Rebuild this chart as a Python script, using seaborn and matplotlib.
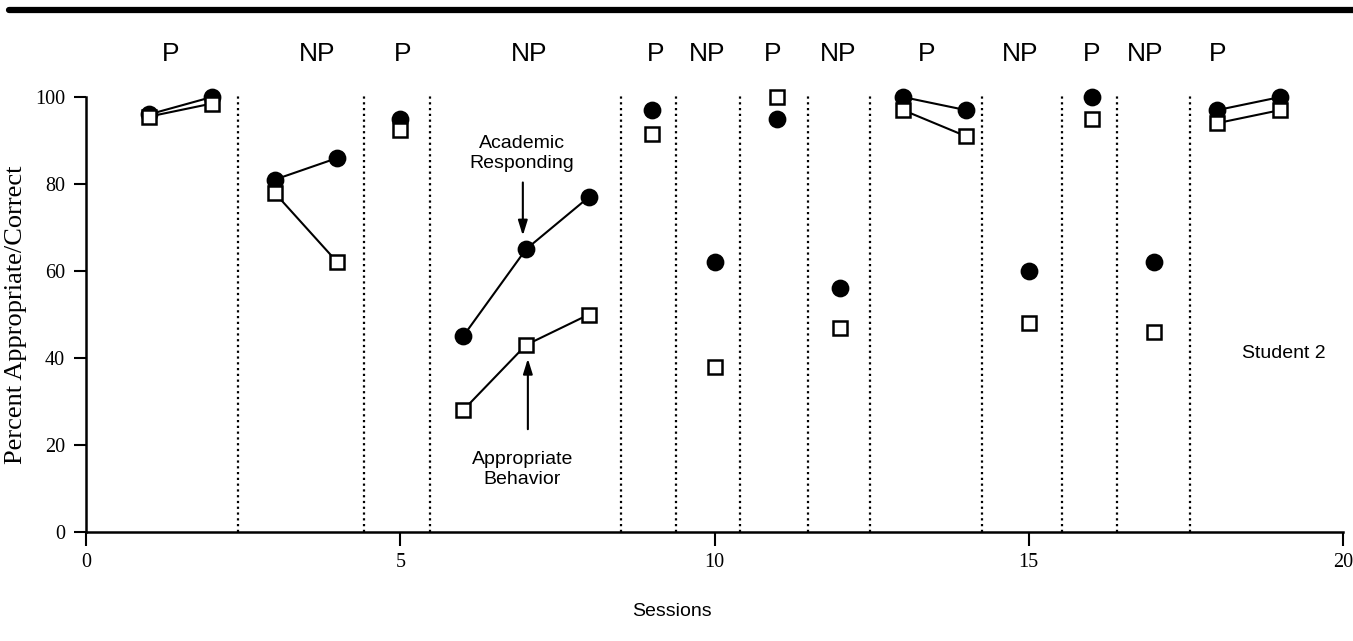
import numpy as np
import pandas as pd
import seaborn as sns
import matplotlib.pyplot as plt
from matplotlib.lines import Line2D

sns.set_style('ticks')
plt.rcParams['font.family'] = ['Liberation Serif', 'DejaVu Serif']
plt.rcParams.update({'text.color': 'black', 'axes.labelcolor': 'black',
                     'xtick.color': 'black', 'ytick.color': 'black',
                     'axes.edgecolor': 'black'})

# data
sessions = list(range(1, 20))
phase_id = [1, 1, 2, 2, 3, 4, 4, 4, 5, 6, 7, 8, 9, 9, 10, 11, 12, 13, 13]
academic = [96, 100, 81, 86, 95, 45, 65, 77, 97, 62, 95, 56, 100, 97, 60, 100, 62, 97, 100]
behavior = [95.5, 98.5, 78, 62, 92.5, 28, 43, 50, 91.5, 38, 100, 47, 97, 91, 48, 95, 46, 94, 97]

phase_names = ['P', 'NP', 'P', 'NP', 'P', 'NP', 'P', 'NP', 'P', 'NP', 'P', 'NP', 'P']
phase_label_x = [1.34, 3.67, 5.03, 7.05, 9.07, 9.88, 10.93, 11.96, 13.38, 14.86, 16.0, 16.85, 18.0]
phase_lines = [2.42, 4.42, 5.47, 8.51, 9.39, 10.41, 11.49, 12.47, 14.26, 15.53, 16.40, 17.57]

df = pd.DataFrame({
    'session': sessions * 2,
    'phase': phase_id * 2,
    'measure': ['Academic'] * 19 + ['Behavior'] * 19,
    'value': academic + behavior,
})

fig = plt.figure(figsize=(13.53, 6.41), dpi=100)
ax = fig.add_axes([0.0636, 0.170, 0.929, 0.6786])

for x in phase_lines:
    ax.plot([x, x], [0, 101], color='black', lw=1.6, linestyle=(0, (1, 1.6)), clip_on=False)

styles = {'Academic': dict(marker='o', markersize=11, markerfacecolor='black'),
          'Behavior': dict(marker='s', markersize=10, markerfacecolor='white')}

for measure in ['Academic', 'Behavior']:
    sub = df[df['measure'] == measure]
    for ph, grp in sub.groupby('phase'):
        sns.lineplot(data=grp, x='session', y='value', ax=ax, color='black', lw=1.5,
                     markeredgecolor='black', markeredgewidth=1.8, clip_on=False,
                     estimator=None, legend=False, **styles[measure])

ax.set_xlim(0, 20)
ax.set_ylim(0, 100)
ax.set_xticks([0, 5, 10, 15, 20])
ax.set_yticks([0, 20, 40, 60, 80, 100])
ax.tick_params(axis='y', length=9, width=1.5, pad=6, labelsize=14.5)
ax.tick_params(axis='x', length=10, width=1.5, pad=5, labelsize=14.5)
sns.despine(ax=ax)
for s in ['left', 'bottom']:
    ax.spines[s].set_linewidth(1.8)
ax.set_xlabel('')
ax.set_ylabel('Percent Appropriate/Correct', fontsize=19, labelpad=6)

sans = ['Liberation Sans', 'DejaVu Sans']
for name, x in zip(phase_names, phase_label_x):
    ax.text(x, 110, name, ha='center', va='center', fontsize=19, family=sans)

ax.text(6.94, 87, 'Academic\nResponding', ha='center', va='center', fontsize=14,
        family=sans, linespacing=1.25)
ax.annotate('', xy=(6.95, 67.5), xytext=(6.95, 81),
            arrowprops=dict(arrowstyle='-|>,head_length=0.9,head_width=0.28', color='black', lw=1.5))
ax.text(6.94, 14.3, 'Appropriate\nBehavior', ha='center', va='center', fontsize=14,
        family=sans, linespacing=1.25)
ax.annotate('', xy=(7.03, 40.5), xytext=(7.03, 23),
            arrowprops=dict(arrowstyle='-|>,head_length=0.9,head_width=0.28', color='black', lw=1.5))
ax.text(19.06, 41, 'Student 2', ha='center', va='center', fontsize=14, family=sans)

fig.text(672 / 1353, 1 - 612 / 641, 'Sessions', ha='center', va='center', fontsize=14, family=sans)
fig.add_artist(Line2D([0.007, 1.0], [1 - 10 / 641, 1 - 10 / 641], color='black', lw=4.5))

fig.savefig('out.png', dpi=100)
